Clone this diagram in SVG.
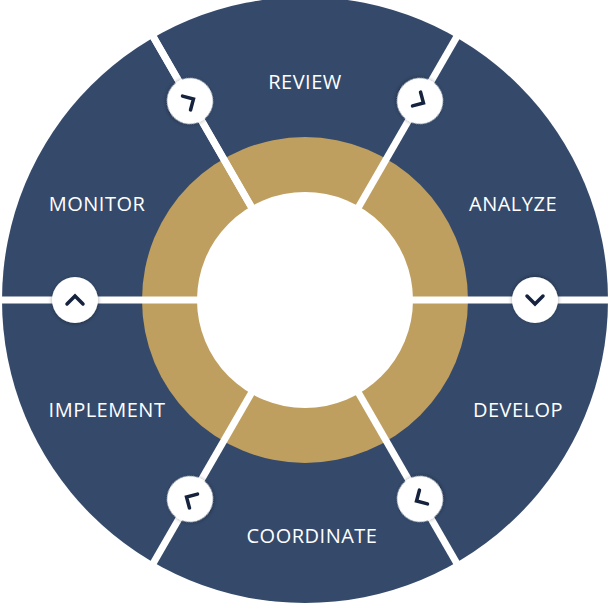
<svg xmlns="http://www.w3.org/2000/svg" width="610" height="610" viewBox="0 0 610 610">
<defs>
<style>
.lbl{font-family:"Open Sans","Liberation Sans",sans-serif;font-size:20px;fill:#fff;text-anchor:middle;letter-spacing:0.5px}
.gap{stroke:#fff;stroke-width:7}
.chev{fill:none;stroke:#15233f;stroke-width:3.5;stroke-linecap:round;stroke-linejoin:miter}
</style>
<filter id="sh" x="-50%" y="-50%" width="200%" height="200%"><feDropShadow dx="0" dy="1" stdDeviation="2" flood-color="#000" flood-opacity="0.35"/></filter>
<g id="btn"><circle r="23" fill="#fff" filter="url(#sh)"/><path class="chev" d="M-8 4 L0 -4 L8 4"/></g>
</defs>
<g id="wheel">
<circle cx="305" cy="300" r="303" fill="#354a6b"/>
<circle cx="305" cy="300" r="163" fill="#bf9f5f"/>
</g>
<g id="connectors">
<line class="gap" x1="-10" y1="300" x2="620" y2="300"/>
<line class="gap" x1="305" y1="300" x2="143" y2="19" transform="rotate(0)"/>
<line class="gap" x1="143" y1="19" x2="467" y2="581"/>
<line class="gap" x1="467" y1="19" x2="143" y2="581"/>
</g>
<circle cx="305" cy="300" r="108" fill="#fff"/>
<g id="n-review"><text class="lbl" x="305" y="89">REVIEW</text></g>
<g id="n-analyze"><text class="lbl" x="513" y="211">ANALYZE</text></g>
<g id="n-develop"><text class="lbl" x="518" y="417">DEVELOP</text></g>
<g id="n-coordinate"><text class="lbl" x="312" y="543">COORDINATE</text></g>
<g id="n-implement"><text class="lbl" x="107" y="417">IMPLEMENT</text></g>
<g id="n-monitor"><text class="lbl" x="97" y="211">MONITOR</text></g>
<g id="arrows">
<use href="#btn" transform="translate(75,300) rotate(0)"/>
<use href="#btn" transform="translate(190,101) rotate(60)"/>
<use href="#btn" transform="translate(420,101) rotate(120)"/>
<use href="#btn" transform="translate(535,300) rotate(180)"/>
<use href="#btn" transform="translate(420,499) rotate(240)"/>
<use href="#btn" transform="translate(190,499) rotate(300)"/>
</g>
</svg>
